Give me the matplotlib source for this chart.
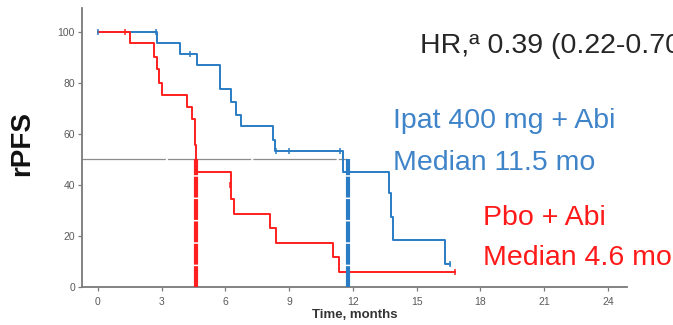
import matplotlib
matplotlib.use("Agg")
import matplotlib.pyplot as plt
from matplotlib import font_manager

# ---------------- data ----------------
x_ticks = [0, 3, 6, 9, 12, 15, 18, 21, 24]
y_ticks = [0, 20, 40, 60, 80, 100]

ipat_t = [0, 2.78, 3.86, 4.64, 5.74, 6.26, 6.52, 6.71, 8.25, 8.33, 11.55, 13.71, 13.77, 13.90, 16.33, 16.56]
ipat_s = [100, 95.7, 91.3, 87.0, 77.6, 72.4, 67.3, 63.0, 57.6, 53.2, 45.2, 36.7, 27.6, 18.4, 9.0, 9.0]
ipat_cens_t = [0, 2.72, 4.33, 8.36, 8.99, 11.4, 16.56]
ipat_cens_s = [100, 100, 91.3, 53.2, 53.2, 53.2, 9.0]

pbo_t = [0, 1.53, 2.65, 2.79, 2.89, 3.03, 4.21, 4.45, 4.56, 4.58, 4.60, 4.62, 6.26, 6.28, 6.40, 8.12, 8.38, 11.07, 11.36, 16.8]
pbo_s = [100, 95.6, 90.0, 85.4, 80.1, 75.3, 70.5, 66.0, 61.0, 55.5, 50.0, 45.2, 40.0, 34.4, 28.8, 23.0, 17.4, 11.6, 6.0, 6.0]
pbo_cens_t = [1.27, 6.22, 16.8]
pbo_cens_s = [100, 40.0, 6.0]

medians_x = [4.6, 11.75]      # where the dashed median lines are drawn
median_level = 50

hr_text = "HR,ª 0.39 (0.22-0.70)"
ipat_label = ["Ipat 400 mg + Abi", "Median 11.5 mo"]
pbo_label = ["Pbo + Abi", "Median 4.6 mo"]

# ---------------- style ----------------
BLUE = "#2a7cc4"
BLUE_TXT = "#3f84c9"
RED = "#ff1f1f"
RED_TXT = "#ff1a1a"
GRAY = "#7a7a7a"

names = {f.name for f in font_manager.fontManager.ttflist}
if "Liberation Sans Narrow" in names:
    big_family = ["Liberation Sans Narrow", "Liberation Sans", "DejaVu Sans"]
    big_size = 24.5
else:
    big_family = ["Liberation Sans", "DejaVu Sans"]
    big_size = 20.5

plt.rcParams["font.family"] = ["Liberation Sans", "DejaVu Sans"]
plt.rcParams["lines.scale_dashes"] = False

W, H = 673, 325
fig = plt.figure(figsize=(W / 100, H / 100), dpi=100)
ax = fig.add_axes([82 / W, 1 - 287 / H, (627 - 82) / W, (287 - 8) / H])

ax.set_xlim(-0.75, 24.9)
ax.set_ylim(0, 109.4)

# median reference line
ax.plot([-0.75, medians_x[1]], [median_level, median_level], color="#8c8c8c", lw=0.9,
        dashes=(60, 1.5), zorder=1)

# curves
ax.step(ipat_t, ipat_s, where="post", color=BLUE, lw=1.4, zorder=3)
ax.step(pbo_t, pbo_s, where="post", color=RED, lw=1.4, zorder=3)

# censor marks
ax.plot(ipat_cens_t, ipat_cens_s, linestyle="none", marker="|", ms=5, mew=1.1, color=BLUE, zorder=4)
ax.plot(pbo_cens_t, pbo_cens_s, linestyle="none", marker="|", ms=5, mew=1.1, color=RED, zorder=4)

# thick dashed median drop lines
ax.plot([medians_x[0], medians_x[0]], [0, median_level], color=RED, lw=3.0,
        dashes=(15, 1.1), solid_capstyle="butt", dash_capstyle="butt", zorder=5)
ax.plot([medians_x[1], medians_x[1]], [0, median_level], color=BLUE, lw=3.0,
        dashes=(15, 1.1), solid_capstyle="butt", dash_capstyle="butt", zorder=5)

# axes styling
for s in ["top", "right"]:
    ax.spines[s].set_visible(False)
for s in ["left", "bottom"]:
    ax.spines[s].set_color(GRAY)
    ax.spines[s].set_linewidth(1.3)

ax.set_xticks(x_ticks)
ax.set_xticklabels([str(v) for v in x_ticks])
ax.set_yticks(y_ticks)
ax.set_yticklabels([str(v) for v in y_ticks])
ax.tick_params(axis="both", length=3, width=0.9, color=GRAY, labelcolor="#5a5a5a",
               labelsize=7.5, pad=2)
ax.tick_params(axis="x", pad=4)

ax.set_xlabel("Time, months", fontsize=9.5, fontweight="bold", color="#333333", labelpad=2)
fig.text(22.5 / W, 1 - 143.5 / H, "rPFS", rotation=90, fontsize=20, fontweight="bold",
         color="#111111", ha="center", va="center")

# annotations
fig.text(420 / W, 1 - 53 / H, hr_text, fontsize=big_size, family=big_family,
         color="#262626", ha="left", va="baseline")
fig.text(393 / W, 1 - 128 / H, ipat_label[0], fontsize=big_size, family=big_family,
         color=BLUE_TXT, ha="left", va="baseline")
fig.text(393 / W, 1 - 170 / H, ipat_label[1], fontsize=big_size, family=big_family,
         color=BLUE_TXT, ha="left", va="baseline")
fig.text(483 / W, 1 - 225 / H, pbo_label[0], fontsize=big_size, family=big_family,
         color=RED_TXT, ha="left", va="baseline")
fig.text(483 / W, 1 - 265 / H, pbo_label[1], fontsize=big_size, family=big_family,
         color=RED_TXT, ha="left", va="baseline")

fig.savefig("out.png", dpi=100)
